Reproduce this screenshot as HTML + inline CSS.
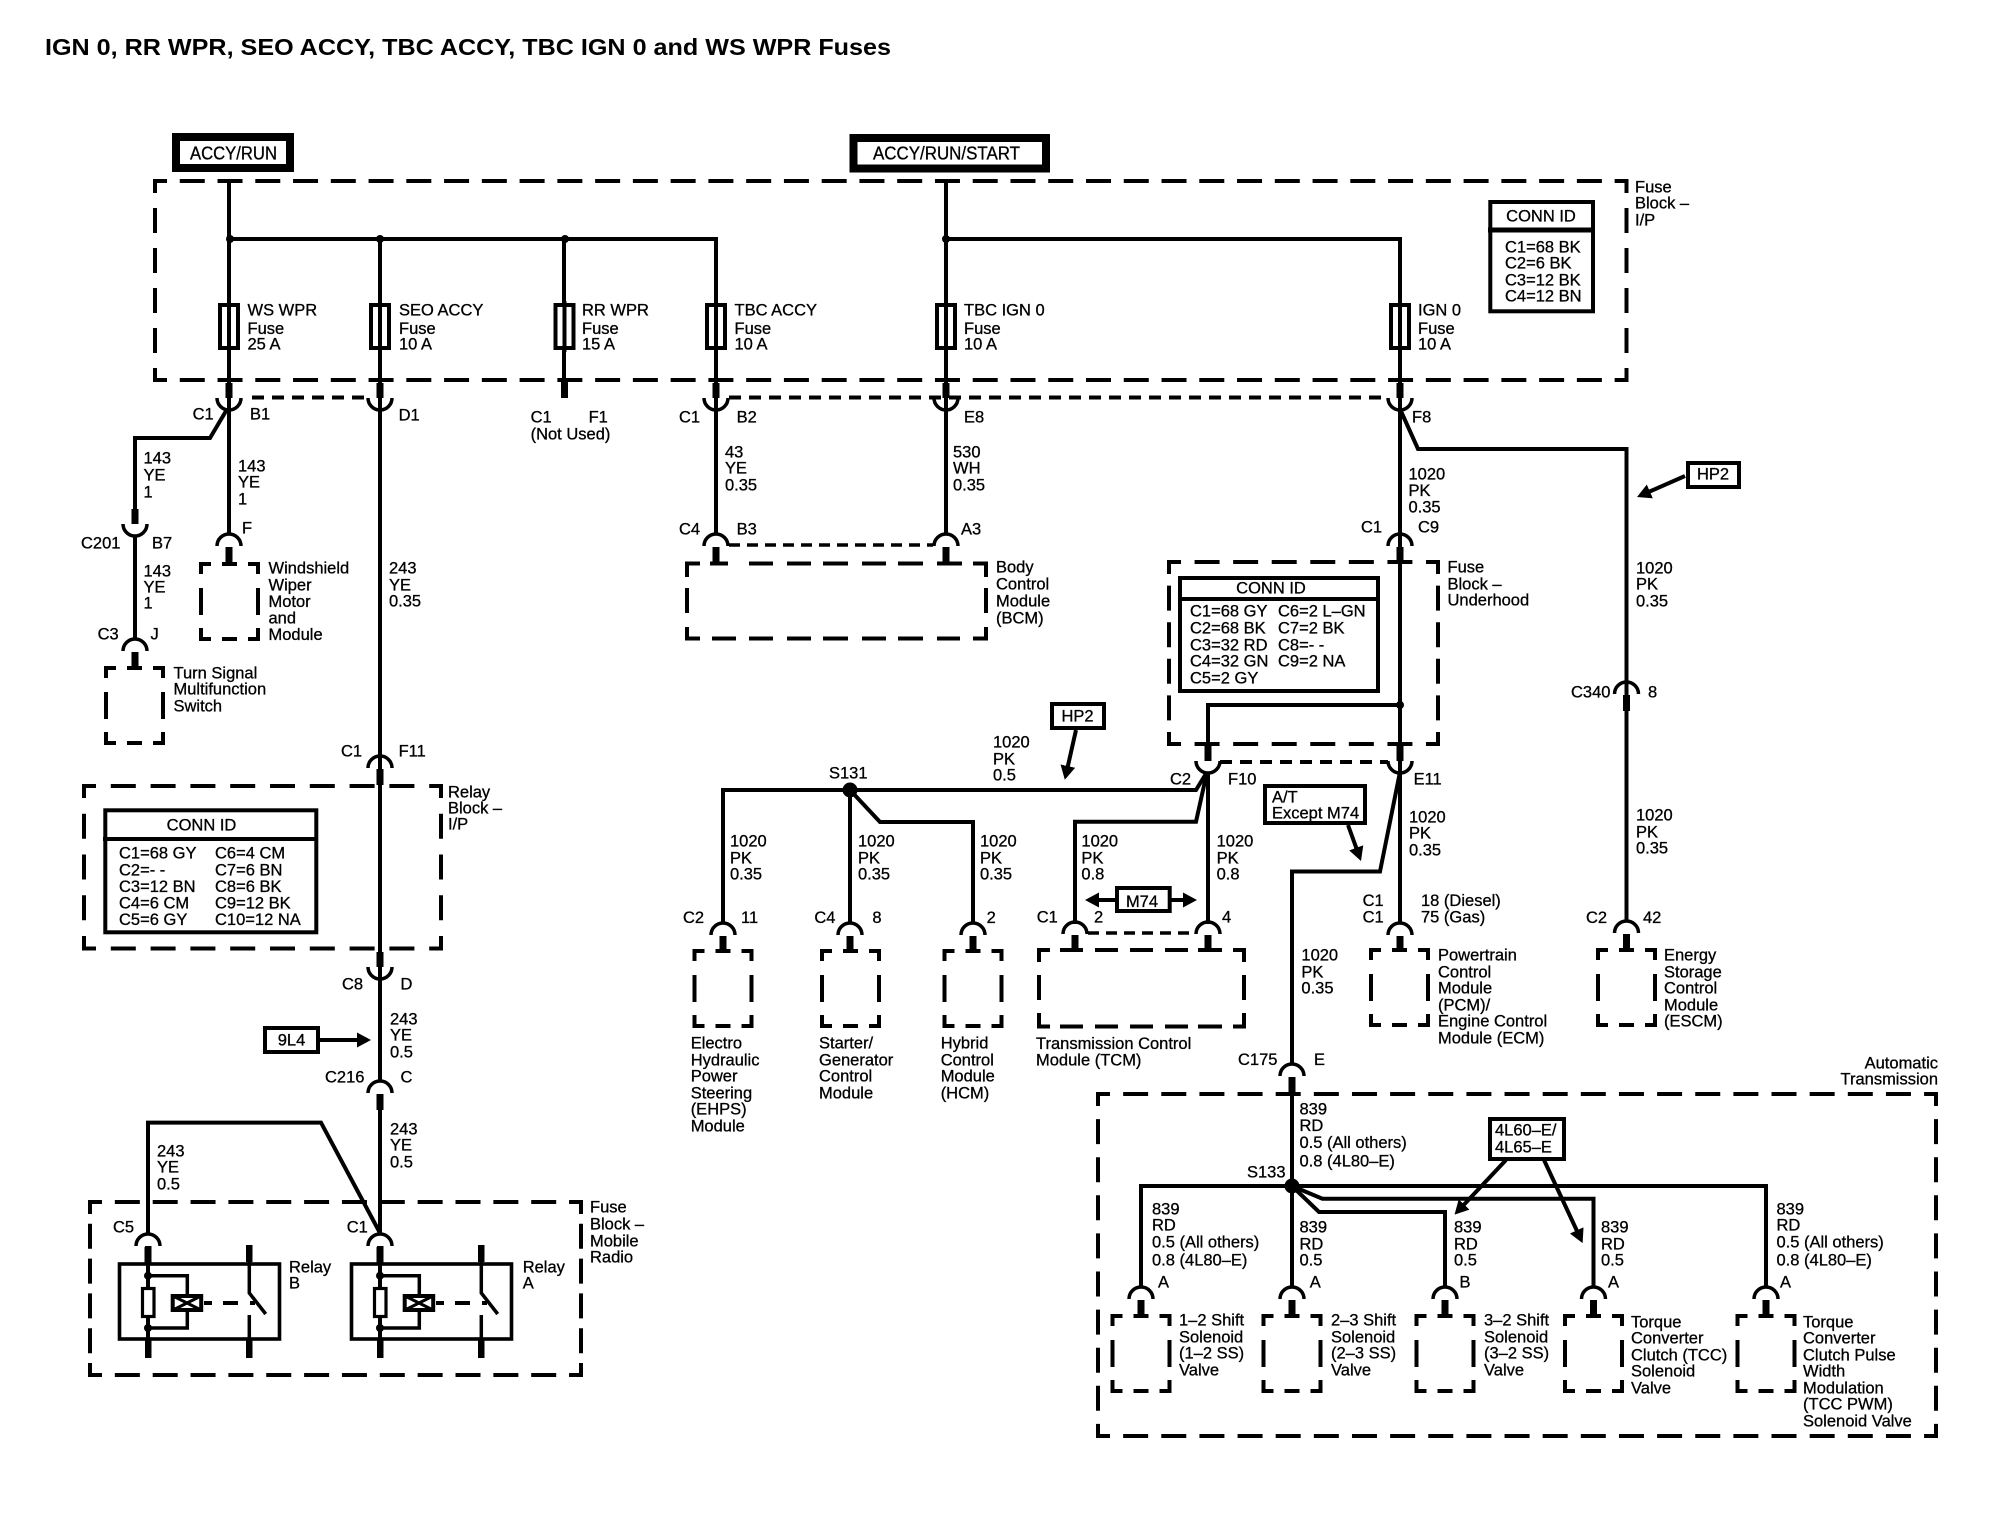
<!DOCTYPE html>
<html><head><meta charset="utf-8"><title>IGN 0, RR WPR, SEO ACCY, TBC ACCY, TBC IGN 0 and WS WPR Fuses</title>
<style>
html,body{margin:0;padding:0;background:#fff}
svg{display:block}
text{font-family:"Liberation Sans",sans-serif;font-size:16.5px;fill:#000;stroke:#000;stroke-width:.3;transform:translateY(-.5px)}
.w{fill:none;stroke:#000;stroke-width:4;stroke-linejoin:miter}
.d{fill:none;stroke:#000;stroke-width:4;stroke-linecap:square;stroke-dashoffset:11}
.p{fill:none;stroke:#000;stroke-width:3.4;stroke-dasharray:11 7}
.q{fill:none;stroke:#000;stroke-width:4;stroke-dasharray:12 8}
.b{fill:#fff;stroke:#000;stroke-width:4}
.m{fill:none;stroke:#000;stroke-width:4}
</style></head><body>
<svg xmlns="http://www.w3.org/2000/svg" width="1994" height="1520" viewBox="0 0 1994 1520">
<defs>
<g id="cu"><path d="M-12,-11A12,12 0 0 0 12,-11" fill="none" stroke="#000" stroke-width="3.5"/><rect x="-3.5" y="-26" width="7" height="15"/></g>
<g id="ca"><path d="M-12,11A12,12 0 0 1 12,11" fill="none" stroke="#000" stroke-width="3.5"/><rect x="-3.5" y="12" width="7" height="16"/></g>
<path id="mod" class="m" d="M0,10V0H10M21,0H36M47,0H57V10M57,24V51M57,64V75H47M36,75H21M10,75H0V64M0,51V24"/>
<g id="fuse"><rect x="-9" y="0" width="18" height="43" fill="#fff" stroke="#000" stroke-width="4"/><path d="M0,-4V47" stroke="#000" stroke-width="4"/></g>
<marker id="a" markerUnits="userSpaceOnUse" viewBox="0 -8 14 16" markerWidth="14" markerHeight="16" refX="4" refY="0" orient="auto"><path d="M0,-7.5L14,0L0,7.5z"/></marker>
<g id="relay">
<rect x="119.5" y="1264" width="160" height="75" fill="#fff" stroke="#000" stroke-width="3.6"/>
<rect x="145" y="1246" width="6.5" height="17"/><rect x="145" y="1340" width="6.5" height="18"/>
<path d="M148,1262V1340" stroke="#000" stroke-width="4"/>
<circle cx="148" cy="1275.7" r="4"/><circle cx="148" cy="1328" r="4"/>
<path d="M148,1275.7H187.3V1328H148" fill="none" stroke="#000" stroke-width="3.5"/>
<rect x="142.5" y="1288.5" width="11.5" height="28" fill="#fff" stroke="#000" stroke-width="3.2"/>
<rect x="172.7" y="1296" width="28.5" height="14" fill="#fff" stroke="#000" stroke-width="4"/>
<path d="M173,1296L201,1310M201,1296L173,1310" stroke="#000" stroke-width="3"/>
<path d="M204,1303H212M223,1303H238M250,1303H255" stroke="#000" stroke-width="4"/>
<rect x="246" y="1245" width="6.5" height="17"/><rect x="246" y="1340" width="6.5" height="18"/>
<path d="M249.3,1262V1293L265.7,1314M249.3,1315V1340" fill="none" stroke="#000" stroke-width="3.5"/>
</g>
</defs>

<text x="45" y="55" textLength="846" lengthAdjust="spacingAndGlyphs" style="font-size:23.3px;font-weight:bold;stroke-width:0;transform:none">IGN 0, RR WPR, SEO ACCY, TBC ACCY, TBC IGN 0 and WS WPR Fuses</text>

<!-- dashed enclosures -->
<path class="d" stroke-dasharray="21 16.76" d="M155,181H1626.5M155,380H1626.5"/>
<path class="d" stroke-dasharray="21 19" d="M155,181V380M1626.5,181V380"/>
<path class="d" stroke-dasharray="21 18.8" d="M84,786H441M84,948.5H441"/>
<path class="d" stroke-dasharray="21 19.75" d="M84,786V948.5M441,786V948.5"/>
<path class="d" stroke-dasharray="21 16.85" d="M90,1202H581M90,1375H581"/>
<path class="d" stroke-dasharray="21 13.8" d="M90,1202V1375M581,1202V1375"/>
<path class="d" stroke-dasharray="21 17.57" d="M1169,562H1438M1169,744H1438"/>
<path class="d" stroke-dasharray="21 15.6" d="M1169,562V744M1438,562V744"/>
<path class="d" stroke-dasharray="21 17.14" d="M1098,1094H1936M1098,1436H1936"/>
<path class="d" stroke-dasharray="21 17.1" d="M1098,1094V1436M1936,1094V1436"/>
<path class="m" d="M687,577V563.5H700M710,563.5H728M749,563.5H773M787,563.5H811M823,563.5H848M862,563.5H886M898,563.5H923M937,563.5H962M973,563.5H986V577M986,588V613M986,627V638.5H973M960,638.5H937M923,638.5H898M886,638.5H862M848,638.5H823M811,638.5H787M773,638.5H749M736,638.5H712M700,638.5H687V627M687,613V588"/>
<path class="m" d="M1039,962V950H1050M1060,950H1083M1095,950H1118M1130,950H1153M1165,950H1188M1198,950H1222M1233,950H1244V962M1244,975V1000M1244,1013V1026.5H1233M1222,1026.5H1198M1188,1026.5H1165M1153,1026.5H1130M1118,1026.5H1095M1083,1026.5H1060M1050,1026.5H1039V1013M1039,1000V975"/>

<!-- small modules -->
<use href="#mod" x="106" y="668"/>
<use href="#mod" x="201" y="564"/>
<use href="#mod" x="694.5" y="951"/>
<use href="#mod" x="822" y="951"/>
<use href="#mod" x="944.5" y="951"/>
<use href="#mod" x="1371" y="950"/>
<use href="#mod" x="1598" y="950"/>
<use href="#mod" x="1112.5" y="1316"/>
<use href="#mod" x="1263.5" y="1316"/>
<use href="#mod" x="1416.5" y="1316"/>
<use href="#mod" x="1565" y="1316"/>
<use href="#mod" x="1737.5" y="1316"/>

<!-- wires -->
<path class="w" d="M229,181V535M230,239H716V409M380,239V1082M564,239V385M946,181V535M946,239H1400V924"/>
<path class="w" d="M226,411L210,438H135V510M135,535V640"/>
<path class="w" d="M716,409V535M1400,409L1418,449H1626.5V922"/>
<path class="w" d="M380,1098V1235"/>
<path class="w" d="M380,1233L321,1122.6H148V1235"/>
<path class="w" d="M723,924V790H1196L1207,772M850,790V924M850,790L880,822H973V924"/>
<path class="w" d="M1208,772V924M1207,772L1196,821.7H1075V924"/>
<path class="w" d="M1400,705H1208V750"/>
<path class="w" d="M1400,772L1380,871.5H1292V1065M1292,1080V1288"/>
<path class="w" d="M1141,1288V1186H1766V1288M1292,1186L1322.4,1198.7H1593.5V1288M1292,1186L1319,1212H1445V1288"/>

<!-- dotted shields -->
<path class="q" d="M252,397.5H367M729,397.5H1388M1220,762H1388"/>
<path class="p" d="M729,545H933M1088,933H1195"/>

<circle cx="230" cy="239" r="4"/><circle cx="380" cy="239" r="4"/><circle cx="565" cy="239" r="4"/><circle cx="946" cy="239" r="4"/><circle cx="1400" cy="705" r="4"/>
<circle cx="850" cy="790" r="7.5"/><circle cx="1292" cy="1186" r="7.5"/>

<!-- fuses -->
<use href="#fuse" x="229" y="305"/><use href="#fuse" x="380" y="305"/><use href="#fuse" x="564.5" y="305"/><use href="#fuse" x="716" y="305"/><use href="#fuse" x="946" y="305"/><use href="#fuse" x="1400" y="305"/>

<!-- connectors -->
<rect x="561" y="381" width="7" height="17"/>
<use href="#cu" x="229" y="409"/><use href="#cu" x="380" y="409"/><use href="#cu" x="716" y="409"/><use href="#cu" x="946" y="409"/><use href="#cu" x="1400" y="409"/>
<use href="#cu" x="135" y="535"/><use href="#cu" x="380" y="978"/><use href="#cu" x="1208" y="772"/><use href="#cu" x="1400" y="772"/>
<use href="#ca" x="229" y="535"/><use href="#ca" x="135" y="640"/><use href="#ca" x="716" y="535"/><use href="#ca" x="946" y="535"/><use href="#ca" x="1400" y="535"/><use href="#ca" x="1626.5" y="683"/>
<use href="#ca" x="380" y="757"/><use href="#ca" x="380" y="1082"/><use href="#ca" x="148" y="1235"/><use href="#ca" x="380" y="1235"/>
<use href="#ca" x="723" y="924"/><use href="#ca" x="850" y="924"/><use href="#ca" x="973" y="924"/><use href="#ca" x="1075" y="923"/><use href="#ca" x="1208" y="923"/><use href="#ca" x="1400" y="924"/><use href="#ca" x="1626.5" y="922"/>
<use href="#ca" x="1292" y="1065"/><use href="#ca" x="1141" y="1288"/><use href="#ca" x="1292" y="1288"/><use href="#ca" x="1445" y="1288"/><use href="#ca" x="1593.5" y="1288"/><use href="#ca" x="1766" y="1288"/>

<!-- relays -->
<use href="#relay"/><use href="#relay" x="232"/>

<!-- solid boxes -->
<rect x="176" y="137" width="114" height="31" fill="#fff" stroke="#000" stroke-width="8"/>
<rect x="853.5" y="138" width="192.5" height="30.5" fill="#fff" stroke="#000" stroke-width="8"/>
<rect class="b" x="1490.3" y="202" width="102.7" height="109.3"/><path d="M1488,230H1595" stroke="#000" stroke-width="5"/>
<rect class="b" x="1180" y="578" width="198" height="113"/><path class="w" d="M1178,599H1380"/>
<rect class="b" x="105.3" y="810.3" width="211" height="122"/><path class="w" d="M103,839H318"/>
<rect class="b" x="1688" y="463" width="51" height="24"/>
<rect class="b" x="1052" y="704" width="52" height="24"/>
<rect class="b" x="1265" y="786" width="100" height="37"/>
<rect class="b" x="1117" y="888" width="52.7" height="23"/>
<rect class="b" x="265" y="1028" width="53" height="24"/>
<rect class="b" x="1490" y="1119" width="74" height="40"/>

<!-- arrows -->
<line class="w" x1="1685" y1="476" x2="1646.2" y2="493" marker-end="url(#a)"/>
<line class="w" x1="1076" y1="730" x2="1067" y2="770" marker-end="url(#a)"/>
<line class="w" x1="1348" y1="825" x2="1357.6" y2="851.6" marker-end="url(#a)"/>
<line class="w" x1="1506" y1="1160" x2="1461.4" y2="1207.4" marker-end="url(#a)"/>
<line class="w" x1="1544" y1="1160" x2="1578.4" y2="1234" marker-end="url(#a)"/>
<line class="w" x1="319" y1="1040" x2="361" y2="1040" marker-end="url(#a)"/>
<line class="w" x1="1116" y1="900" x2="1095" y2="900" marker-end="url(#a)"/>
<line class="w" x1="1171" y1="900" x2="1187" y2="900" marker-end="url(#a)"/>

<!-- box labels -->
<text x="190" y="160" textLength="87" lengthAdjust="spacingAndGlyphs" style="font-size:18px">ACCY/RUN</text>
<text x="873" y="160" textLength="147" lengthAdjust="spacingAndGlyphs" style="font-size:18px">ACCY/RUN/START</text>
<text x="1541" y="222" text-anchor="middle">CONN ID</text>
<text x="1505" y="253">C1=68 BK</text><text x="1505" y="269">C2=6 BK</text><text x="1505" y="286">C3=12 BK</text><text x="1505" y="302">C4=12 BN</text>
<text x="1635" y="193">Fuse</text><text x="1635" y="209">Block –</text><text x="1635" y="226">I/P</text>

<text x="247.5" y="316">WS WPR</text><text x="247.5" y="334.5">Fuse</text><text x="247.5" y="350">25 A</text>
<text x="399" y="316">SEO ACCY</text><text x="399" y="334.5">Fuse</text><text x="399" y="350">10 A</text>
<text x="582" y="316">RR WPR</text><text x="582" y="334.5">Fuse</text><text x="582" y="350">15 A</text>
<text x="734.5" y="316">TBC ACCY</text><text x="734.5" y="334.5">Fuse</text><text x="734.5" y="350">10 A</text>
<text x="964" y="316">TBC IGN 0</text><text x="964" y="334.5">Fuse</text><text x="964" y="350">10 A</text>
<text x="1418" y="316">IGN 0</text><text x="1418" y="334.5">Fuse</text><text x="1418" y="350">10 A</text>

<text x="192.6" y="420">C1</text><text x="250" y="420">B1</text><text x="398.6" y="421">D1</text>
<text x="530.6" y="423">C1</text><text x="588.6" y="423">F1</text><text x="530.6" y="440">(Not Used)</text>
<text x="679" y="423">C1</text><text x="736.6" y="423">B2</text><text x="964" y="423">E8</text><text x="1412" y="423">F8</text>

<text x="143.5" y="464">143</text><text x="143.5" y="481">YE</text><text x="143.5" y="498">1</text>
<text x="238" y="472">143</text><text x="238" y="488">YE</text><text x="238" y="505">1</text>
<text x="725" y="458">43</text><text x="725" y="474">YE</text><text x="725" y="491">0.35</text>
<text x="953" y="458">530</text><text x="953" y="474">WH</text><text x="953" y="491">0.35</text>
<text x="1408.5" y="480">1020</text><text x="1408.5" y="496.5">PK</text><text x="1408.5" y="513">0.35</text>

<text x="81" y="549">C201</text><text x="152" y="549">B7</text>
<text x="143.5" y="577">143</text><text x="143.5" y="593">YE</text><text x="143.5" y="609">1</text>
<text x="97.6" y="640">C3</text><text x="150.5" y="640">J</text>
<text x="242" y="534">F</text>
<text x="173.5" y="679">Turn Signal</text><text x="173.5" y="695">Multifunction</text><text x="173.5" y="712">Switch</text>
<text x="268.5" y="574">Windshield</text><text x="268.5" y="591">Wiper</text><text x="268.5" y="607.5">Motor</text><text x="268.5" y="624">and</text><text x="268.5" y="640.5">Module</text>
<text x="389" y="574">243</text><text x="389" y="591">YE</text><text x="389" y="607">0.35</text>
<text x="679" y="535">C4</text><text x="736.6" y="535">B3</text><text x="961" y="535">A3</text>
<text x="996" y="573">Body</text><text x="996" y="590">Control</text><text x="996" y="607">Module</text><text x="996" y="624">(BCM)</text>
<text x="1361" y="533">C1</text><text x="1418" y="533">C9</text>
<text x="1447.5" y="573">Fuse</text><text x="1447.5" y="590">Block –</text><text x="1447.5" y="606">Underhood</text>

<text x="1271" y="594" text-anchor="middle">CONN ID</text>
<text x="1190" y="617">C1=68 GY</text><text x="1278" y="617">C6=2 L–GN</text>
<text x="1190" y="634">C2=68 BK</text><text x="1278" y="634">C7=2 BK</text>
<text x="1190" y="651">C3=32 RD</text><text x="1278" y="651">C8=- -</text>
<text x="1190" y="667">C4=32 GN</text><text x="1278" y="667">C9=2 NA</text>
<text x="1190" y="684">C5=2 GY</text>

<text x="1713" y="480" text-anchor="middle">HP2</text>
<text x="1636" y="574">1020</text><text x="1636" y="590">PK</text><text x="1636" y="607">0.35</text>
<text x="1571" y="698">C340</text><text x="1648" y="698">8</text>
<text x="1636" y="821">1020</text><text x="1636" y="838">PK</text><text x="1636" y="854">0.35</text>
<text x="1586" y="923.5">C2</text><text x="1643" y="923.5">42</text>
<text x="1664" y="961">Energy</text><text x="1664" y="978">Storage</text><text x="1664" y="994">Control</text><text x="1664" y="1011">Module</text><text x="1664" y="1027">(ESCM)</text>

<text x="1077.5" y="722" text-anchor="middle">HP2</text>
<text x="993" y="748">1020</text><text x="993" y="765">PK</text><text x="993" y="781">0.5</text>
<text x="829" y="779">S131</text>
<text x="1170" y="785">C2</text><text x="1228" y="785">F10</text><text x="1413.6" y="785">E11</text>
<text x="1272" y="803">A/T</text><text x="1272" y="819">Except M74</text>
<text x="1409" y="823">1020</text><text x="1409" y="839">PK</text><text x="1409" y="856">0.35</text>

<text x="730" y="847">1020</text><text x="730" y="864">PK</text><text x="730" y="880">0.35</text>
<text x="858" y="847">1020</text><text x="858" y="864">PK</text><text x="858" y="880">0.35</text>
<text x="980" y="847">1020</text><text x="980" y="864">PK</text><text x="980" y="880">0.35</text>
<text x="1081.4" y="847">1020</text><text x="1081.4" y="864">PK</text><text x="1081.4" y="880">0.8</text>
<text x="1216.6" y="847">1020</text><text x="1216.6" y="864">PK</text><text x="1216.6" y="880">0.8</text>
<text x="1142" y="907.5" text-anchor="middle">M74</text>
<text x="1362.6" y="906.6">C1</text><text x="1362.6" y="923">C1</text><text x="1421" y="906.6">18 (Diesel)</text><text x="1421" y="923">75 (Gas)</text>
<text x="683" y="923.5">C2</text><text x="741" y="923.5">11</text><text x="814.4" y="923.5">C4</text><text x="872.4" y="923.5">8</text><text x="986.6" y="923.5">2</text>
<text x="1036.7" y="923">C1</text><text x="1094" y="923">2</text><text x="1222" y="923">4</text>

<text x="690.7" y="1049">Electro</text><text x="690.7" y="1066">Hydraulic</text><text x="690.7" y="1082">Power</text><text x="690.7" y="1099">Steering</text><text x="690.7" y="1115">(EHPS)</text><text x="690.7" y="1132">Module</text>
<text x="819" y="1049">Starter/</text><text x="819" y="1066">Generator</text><text x="819" y="1082">Control</text><text x="819" y="1099">Module</text>
<text x="940.7" y="1049">Hybrid</text><text x="940.7" y="1066">Control</text><text x="940.7" y="1082">Module</text><text x="940.7" y="1099">(HCM)</text>
<text x="1036" y="1049.6">Transmission Control</text><text x="1036" y="1066">Module (TCM)</text>
<text x="1438" y="961">Powertrain</text><text x="1438" y="978">Control</text><text x="1438" y="994">Module</text><text x="1438" y="1011">(PCM)/</text><text x="1438" y="1027">Engine Control</text><text x="1438" y="1044">Module (ECM)</text>
<text x="1301.4" y="961">1020</text><text x="1301.4" y="978">PK</text><text x="1301.4" y="994">0.35</text>
<text x="1238" y="1065.6">C175</text><text x="1314" y="1065.6">E</text>
<text x="1938" y="1069" text-anchor="end">Automatic</text><text x="1938" y="1085" text-anchor="end">Transmission</text>

<text x="1299.5" y="1115">839</text><text x="1299.5" y="1131.5">RD</text><text x="1299.5" y="1148.5">0.5 (All others)</text><text x="1299.5" y="1167">0.8 (4L80–E)</text>
<text x="1247" y="1178">S133</text>
<text x="1495" y="1136">4L60–E/</text><text x="1495" y="1153">4L65–E</text>

<text x="1152" y="1215">839</text><text x="1152" y="1231">RD</text><text x="1152" y="1248">0.5 (All others)</text><text x="1152" y="1266">0.8 (4L80–E)</text>
<text x="1299.5" y="1233">839</text><text x="1299.5" y="1250">RD</text><text x="1299.5" y="1266">0.5</text>
<text x="1454" y="1233">839</text><text x="1454" y="1250">RD</text><text x="1454" y="1266">0.5</text>
<text x="1601" y="1233">839</text><text x="1601" y="1250">RD</text><text x="1601" y="1266">0.5</text>
<text x="1776.5" y="1215">839</text><text x="1776.5" y="1231">RD</text><text x="1776.5" y="1248">0.5 (All others)</text><text x="1776.5" y="1266">0.8 (4L80–E)</text>
<text x="1158" y="1288">A</text><text x="1309.7" y="1288">A</text><text x="1459.5" y="1288">B</text><text x="1608" y="1288">A</text><text x="1780" y="1288">A</text>

<text x="1179" y="1326">1–2 Shift</text><text x="1179" y="1343">Solenoid</text><text x="1179" y="1359">(1–2 SS)</text><text x="1179" y="1376">Valve</text>
<text x="1331" y="1326">2–3 Shift</text><text x="1331" y="1343">Solenoid</text><text x="1331" y="1359">(2–3 SS)</text><text x="1331" y="1376">Valve</text>
<text x="1484" y="1326">3–2 Shift</text><text x="1484" y="1343">Solenoid</text><text x="1484" y="1359">(3–2 SS)</text><text x="1484" y="1376">Valve</text>
<text x="1631" y="1328">Torque</text><text x="1631" y="1344">Converter</text><text x="1631" y="1361">Clutch (TCC)</text><text x="1631" y="1377">Solenoid</text><text x="1631" y="1394">Valve</text>
<text x="1803" y="1328">Torque</text><text x="1803" y="1344">Converter</text><text x="1803" y="1361">Clutch Pulse</text><text x="1803" y="1377">Width</text><text x="1803" y="1394">Modulation</text><text x="1803" y="1410">(TCC PWM)</text><text x="1803" y="1427">Solenoid Valve</text>

<text x="341" y="757">C1</text><text x="398.6" y="757">F11</text>
<text x="448" y="798">Relay</text><text x="448" y="814">Block –</text><text x="448" y="830">I/P</text>
<text x="201.5" y="831" text-anchor="middle">CONN ID</text>
<text x="119" y="859">C1=68 GY</text><text x="215" y="859">C6=4 CM</text>
<text x="119" y="876">C2=- -</text><text x="215" y="876">C7=6 BN</text>
<text x="119" y="892.5">C3=12 BN</text><text x="215" y="892.5">C8=6 BK</text>
<text x="119" y="909">C4=6 CM</text><text x="215" y="909">C9=12 BK</text>
<text x="119" y="925.5">C5=6 GY</text><text x="215" y="925.5">C10=12 NA</text>
<text x="342" y="990">C8</text><text x="400.5" y="990">D</text>
<text x="390" y="1025">243</text><text x="390" y="1041">YE</text><text x="390" y="1058">0.5</text>
<text x="291.5" y="1046" text-anchor="middle">9L4</text>
<text x="325" y="1083">C216</text><text x="400.5" y="1083">C</text>
<text x="390" y="1135">243</text><text x="390" y="1151">YE</text><text x="390" y="1168">0.5</text>
<text x="157" y="1157">243</text><text x="157" y="1173">YE</text><text x="157" y="1190">0.5</text>
<text x="113" y="1233">C5</text><text x="346.7" y="1233">C1</text>
<text x="590" y="1213">Fuse</text><text x="590" y="1230">Block –</text><text x="590" y="1247">Mobile</text><text x="590" y="1263">Radio</text>
<text x="289" y="1273">Relay</text><text x="289" y="1289">B</text>
<text x="522.7" y="1273">Relay</text><text x="522.7" y="1289">A</text>
</svg>
</body></html>
